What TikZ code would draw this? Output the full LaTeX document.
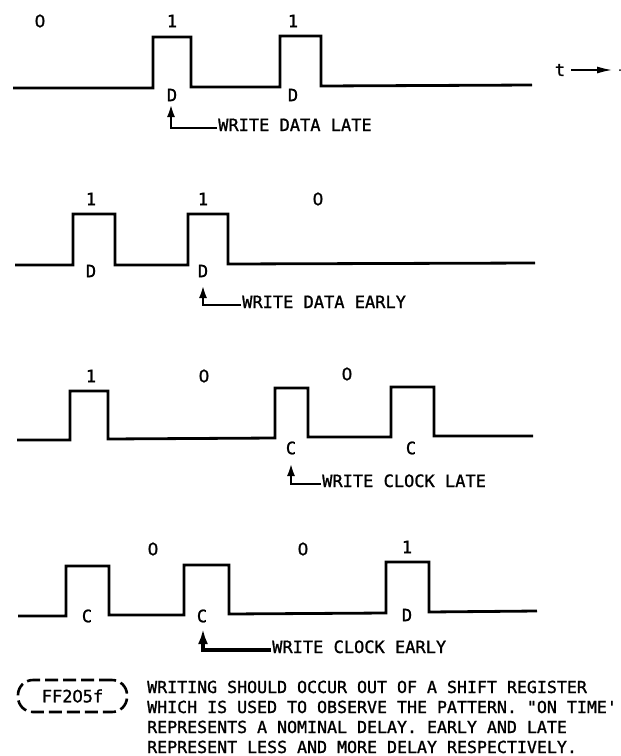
\documentclass[tikz,border=0pt]{standalone}
\usepackage{fontspec}
\setmonofont{DejaVu Sans Mono}[FakeBold=1.2]
\newfontfamily\zfont{DejaVu Sans}[FakeBold=1.2]
\usetikzlibrary{arrows.meta}
\newcommand\zr{\makebox[0.602em]{\zfont 0}}
\begin{document}
\begin{tikzpicture}[x=1pt,y=-1pt,
  font=\ttfamily\fontsize{17}{20}\selectfont,
  every node/.style={inner sep=0pt},
  wave/.style={line width=2.8pt},
  callout/.style={line width=2.8pt,-{Latex[length=13pt,width=8pt]}},
  bigcallout/.style={line width=3.2pt,-{Latex[length=15pt,width=10pt]}}]
\useasboundingbox (0,0) rectangle (621,756);
% ---------- waveform 1
\draw[wave] (13,88) -- (153,88) -- (153,37) -- (191,37) -- (191,87) -- (280,87)
  -- (280,36) -- (321,36) -- (321,86) -- (532,85);
\node (w1b1) at (40,21) {\zr};
\node (w1b2) at (172,21) {1};
\node (w1b3) at (293,21) {1};
\node (w1d1) at (172,95) {D};
\node (w1d2) at (293,95) {D};
\node[anchor=base west] (t1) at (218,131) {WRITE DATA LATE};
\coordinate (a1) at (171,104);
\draw[callout] ([xshift=-1pt,yshift=3pt]t1.base west) -| (a1);
\node (tlab) at (560,70) {t};
\coordinate (tend) at (613,70);
\draw[line width=2pt,-{Latex[length=16pt,width=7pt]}] ([xshift=6pt]tlab.east) -- (tend);
\fill (620,70) circle (1pt);
% ---------- waveform 2
\draw[wave] (15,265) -- (73,265) -- (73,214) -- (115,214) -- (115,265) -- (188,265)
  -- (188,214) -- (228,214) -- (228,264) -- (535,263);
\node (w2b1) at (91,199) {1};
\node (w2b2) at (203,199) {1};
\node (w2b3) at (318,199) {\zr};
\node (w2d1) at (91,271) {D};
\node (w2d2) at (203,271) {D};
\node[anchor=base west] (t2) at (242,308) {WRITE DATA EARLY};
\coordinate (a2) at (203,285);
\draw[callout] ([xshift=-1pt,yshift=3pt]t2.base west) -| (a2);
% ---------- waveform 3
\draw[wave] (17,440) -- (70,440) -- (70,391) -- (108,391) -- (108,439) -- (275,438)
  -- (275,388) -- (308,388) -- (308,437) -- (391,437) -- (391,387) -- (434,387)
  -- (434,436) -- (533,436);
\node (w3b1) at (91,376) {1};
\node (w3b2) at (204,376) {\zr};
\node (w3b3) at (347,374) {\zr};
\node (w3c1) at (291,448) {C};
\node (w3c2) at (411,448) {C};
\node[anchor=base west] (t3) at (322,487) {WRITE CLOCK LATE};
\coordinate (a3) at (291,463);
\draw[callout] ([xshift=-1pt,yshift=3pt]t3.base west) -| (a3);
% ---------- waveform 4
\draw[wave] (18,616) -- (66,616) -- (66,566) -- (109,566) -- (109,615) -- (184,615)
  -- (184,565) -- (229,565) -- (229,614) -- (386,613) -- (386,562) -- (429,562)
  -- (429,612) -- (537,611);
\node (w4b1) at (153,549) {\zr};
\node (w4b2) at (303,549) {\zr};
\node (w4b3) at (407,547) {1};
\node (w4c1) at (87,616) {C};
\node (w4c2) at (202,616) {C};
\node (w4d1) at (407,615) {D};
\node[anchor=base west] (t4) at (272,653) {WRITE CLOCK EARLY};
\coordinate (a4) at (203,629);
\draw[bigcallout] ([xshift=-1pt,yshift=3pt]t4.base west) -| (a4);
% ---------- footer
\node[draw, line width=2.6pt, dash pattern=on 13pt off 5pt, rounded corners=15pt,
  minimum width=109pt, minimum height=32pt] (ff) at (72.5,696) {FF2\zr5f};
\begin{scope}[font=\ttfamily\fontsize{16.6}{20}\selectfont]
\node[anchor=base west] (n1) at (147,693) {WRITING SHOULD OCCUR OUT OF A SHIFT REGISTER};
\node[anchor=base west] (n2) at (147,713) {WHICH IS USED TO OBSERVE THE PATTERN. "ON TIME'};
\node[anchor=base west] (n3) at (147,733) {REPRESENTS A NOMINAL DELAY. EARLY AND LATE};
\node[anchor=base west] (n4) at (147,753) {REPRESENT LESS AND MORE DELAY RESPECTIVELY.};
\end{scope}
\end{tikzpicture}
\end{document}
